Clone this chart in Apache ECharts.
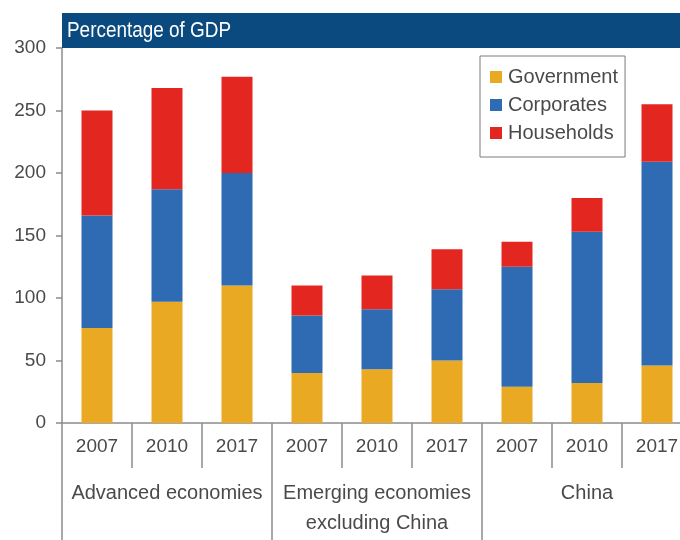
<!DOCTYPE html>
<html>
<head>
<meta charset="utf-8">
<script src="https://cdn.jsdelivr.net/npm/echarts@6/dist/echarts.min.js"></script>
<style>
html,body{margin:0;padding:0;background:#fff;}
#chart{width:680px;height:540px;}
</style>
</head>
<body>
<div id="chart"></div>
<script>
var years = ['2007','2010','2017','2007','2010','2017','2007','2010','2017'];
var groups = ['Advanced economies','Emerging economies\nexcluding China','China'];
var government = [76, 97, 110, 40, 43, 50, 29, 32, 46];
var corporates = [90, 90, 90, 46, 48, 57, 96, 121, 163];
var households = [84, 81, 77, 24, 27, 32, 20, 27, 46];
var yTicks = [0, 50, 100, 150, 200, 250, 300];

var axisGray = '#8c8c8c';
var textGray = '#4a4a4a';
var font = '"Liberation Sans", Arial, sans-serif';

var chart = echarts.init(document.getElementById('chart'), null, {renderer:'canvas'});
chart.setOption({
  backgroundColor: '#ffffff',
  animation: false,
  grid: {left: 62, top: 48, width: 630, height: 375, containLabel: false, outerBoundsMode: 'none'},
  legend: {
    orient: 'vertical',
    left: 480, top: 56,
    data: ['Government','Corporates','Households'],
    icon: 'rect',
    itemWidth: 12, itemHeight: 12,
    itemGap: 8,
    padding: [11, 7, 14, 10],
    borderColor: '#7a7a7a', borderWidth: 1,
    backgroundColor: '#ffffff',
    textStyle: {fontFamily: font, fontSize: 20, color: textGray, padding: [0,0,0,1]}
  },
  xAxis: [{
    type: 'category',
    data: years,
    position: 'bottom',
    boundaryGap: true,
    axisLine: {show: true, lineStyle: {color: axisGray, width: 1.5}},
    axisTick: {show: true, interval: 0, length: 45, lineStyle: {color: axisGray, width: 1.5}},
    axisLabel: {interval: 0, margin: 14, fontFamily: font, fontSize: 19, color: textGray}
  }, {
    type: 'category',
    data: groups,
    position: 'bottom',
    boundaryGap: true,
    axisLine: {show: false},
    axisTick: {show: true, interval: 0, length: 117, lineStyle: {color: axisGray, width: 1.5}},
    axisLabel: {interval: 0, margin: 55, fontFamily: font, fontSize: 20, lineHeight: 30, color: textGray}
  }],
  yAxis: {
    type: 'value',
    min: 0, max: 300, interval: 50,
    splitLine: {show: false},
    axisLine: {show: true, lineStyle: {color: axisGray, width: 1.5}},
    axisTick: {show: true, length: 6, lineStyle: {color: axisGray, width: 1.5}},
    axisLabel: {margin: 16, fontFamily: font, fontSize: 19, color: textGray,
      customValues: yTicks}
  },
  series: [
    {name: 'Government', type: 'bar', stack: 'debt', barWidth: 31, data: government, itemStyle: {color: '#e9a923'}},
    {name: 'Corporates', type: 'bar', stack: 'debt', barWidth: 31, data: corporates, itemStyle: {color: '#2f6bb3'}},
    {name: 'Households', type: 'bar', stack: 'debt', barWidth: 31, data: households, itemStyle: {color: '#e3261f'}}
  ],
  graphic: [{
    type: 'rect', z: 100,
    shape: {x: 62, y: 13, width: 618, height: 35},
    style: {fill: '#0b4a7e'}
  }, {
    type: 'text', z: 101,
    x: 67, y: 31, scaleX: 0.86,
    style: {text: 'Percentage of GDP', fill: '#ffffff', fontFamily: font, fontSize: 22, verticalAlign: 'middle'}
  }]
});
</script>
</body>
</html>
